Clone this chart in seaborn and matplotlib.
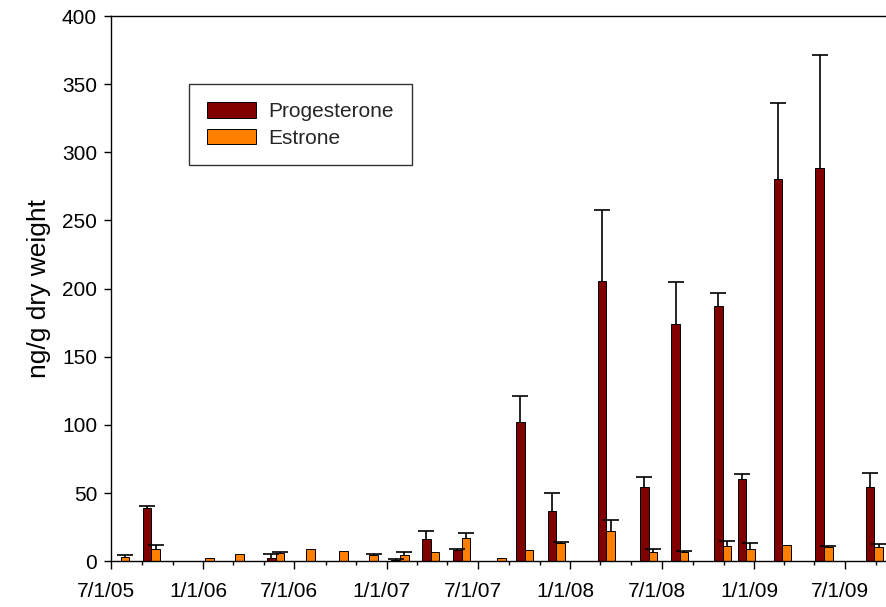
import numpy as np
import pandas as pd
import matplotlib
matplotlib.use("Agg")
import matplotlib.pyplot as plt
import matplotlib.dates as mdates
import matplotlib.patches as mpatches
from matplotlib.ticker import FixedLocator, FuncFormatter
from matplotlib.transforms import ScaledTranslation
import seaborn as sns

nan = np.nan

# Sampling dates and mean concentrations (ng/g dry weight) with upper error
sample_dates = ["2005-07-20", "2005-09-19", "2006-01-05", "2006-03-05", "2006-05-25",
                "2006-07-25", "2006-09-28", "2006-11-27", "2007-01-27", "2007-03-29",
                "2007-05-30", "2007-08-08", "2007-10-02", "2007-12-04", "2008-03-13",
                "2008-06-05", "2008-08-06", "2008-10-30", "2008-12-16", "2009-02-26",
                "2009-05-20", "2009-08-28"]
progesterone = [nan, 39.3, nan, nan, 2.4, nan, nan, nan, 1.0, 16.3, 8.3, nan,
                102.0, 36.7, 205.9, 54.3, 174.3, 187.3, 60.6, 280.2, 288.3, 54.3]
progesterone_err = [0, 1.5, 0, 0, 2.7, 0, 0, 0, 0.5, 5.9, 0.5, 0,
                    19.5, 13.2, 52.1, 7.8, 30.4, 9.5, 3.7, 56.3, 83.4, 10.5]
estrone = [3.4, 8.8, 2.4, 5.4, 6.3, 8.8, 7.8, 4.6, 4.6, 6.6, 16.8, 2.2,
           8.1, 13.7, 22.2, 6.6, 7.0, 11.5, 8.8, 12.2, 10.3, 10.3]
estrone_err = [1.2, 2.9, 0, 0, 0.7, 0, 0, 1.0, 2.0, 0, 3.9, 0,
               0, 0.7, 7.9, 2.2, 0.8, 3.6, 4.9, 0, 0.9, 2.2]

compounds = ["Progesterone", "Estrone"]
colors = ["#800000", "#FF8000"]
y_ticks = [0, 50, 100, 150, 200, 250, 300, 350, 400]

# long-format table for seaborn
x_num = mdates.date2num(pd.to_datetime(sample_dates).to_pydatetime())
df = pd.DataFrame({
    "date": np.concatenate([x_num, x_num]),
    "compound": ["Progesterone"] * len(x_num) + ["Estrone"] * len(x_num),
    "value": progesterone + estrone,
})

sns.set_theme(style="ticks")
plt.rcParams["font.family"] = ["Liberation Sans", "DejaVu Sans"]
plt.rcParams["font.size"] = 15

fig = plt.figure(figsize=(8.86, 6.07), dpi=100)
ax = fig.add_axes([111 / 886, (607 - 561.3) / 607, 775 / 886, 545.3 / 607])

# each date gets a pair of bars spanning about 34 days
pair_days = 34.4
width = pair_days / np.diff(np.unique(x_num)).min()
sns.barplot(data=df, x="date", y="value", hue="compound", hue_order=compounds,
            palette=colors, native_scale=True, width=width, dodge=True,
            errorbar=None, saturation=1, edgecolor="black", linewidth=0.7,
            legend=False, ax=ax, zorder=2)

# one-sided (upper) error bars, cap only at the top
bar_w = pair_days / 2
for vals, errs, shift in [(progesterone, progesterone_err, -bar_w / 2),
                          (estrone, estrone_err, bar_w / 2)]:
    v = np.array(vals, dtype=float)
    e = np.array(errs, dtype=float)
    m = (e > 0) & ~np.isnan(v)
    eb = ax.errorbar(x_num[m] + shift, v[m], yerr=[np.zeros(m.sum()), e[m]],
                     fmt="none", ecolor="black", elinewidth=1.2, capsize=5.8,
                     capthick=1.2, zorder=3)
    eb[1][0].set_visible(False)

# axes limits and ticks
x0 = mdates.date2num(pd.Timestamp("2005-07-01").to_pydatetime())
ax.set_xlim(x0, x0 + 1542.3)
ax.set_ylim(0, 400)
ax.yaxis.set_major_locator(FixedLocator(y_ticks))

major_dates = pd.date_range("2005-07-01", "2009-07-01", freq="6MS")
minor_dates = [d for d in pd.date_range("2005-07-01", "2009-11-01", freq="2MS")
               if d not in set(major_dates)]
ax.xaxis.set_major_locator(FixedLocator(mdates.date2num(major_dates.to_pydatetime())))
ax.xaxis.set_minor_locator(FixedLocator(mdates.date2num(
    pd.DatetimeIndex(minor_dates).to_pydatetime())))


def fmt_date(v, pos):
    d = mdates.num2date(v)
    return f"{d.month}/{d.day}/{d:%y}"


ax.xaxis.set_major_formatter(FuncFormatter(fmt_date))

ax.tick_params(axis="x", which="major", direction="out", length=5.8, width=1,
               color="black", pad=9, labelsize=15, labelcolor="black")
ax.tick_params(axis="x", which="minor", direction="out", length=3.2, width=1,
               color="black")
ax.tick_params(axis="y", which="major", direction="out", length=5, width=1,
               color="black", pad=5, labelsize=15, labelcolor="black")

offset = ScaledTranslation(-5 / 100, 0, fig.dpi_scale_trans)
for lab in ax.get_xticklabels():
    lab.set_transform(lab.get_transform() + offset)

ax.set_xlabel("")
ax.set_ylabel("ng/g dry weight", fontsize=19, color="black")
ax.yaxis.set_label_coords(-0.078, 0.5)

for side in ["left", "bottom", "top"]:
    ax.spines[side].set_visible(True)
    ax.spines[side].set_color("black")
    ax.spines[side].set_linewidth(1.0)
ax.spines["right"].set_visible(False)

handles = [mpatches.Patch(facecolor=c, edgecolor="black", linewidth=0.7, label=n)
           for n, c in zip(compounds, colors)]
leg = ax.legend(handles=handles, loc="upper left",
                bbox_to_anchor=(0.1006, 0.8748), borderaxespad=0,
                fancybox=False, shadow=False, frameon=True, fontsize=15,
                handlelength=2.35, handleheight=0.77, handletextpad=0.62,
                borderpad=0.85, labelspacing=0.36)
leg.get_frame().set_edgecolor("black")
leg.get_frame().set_linewidth(1.0)

fig.savefig("out.png", dpi=100)
